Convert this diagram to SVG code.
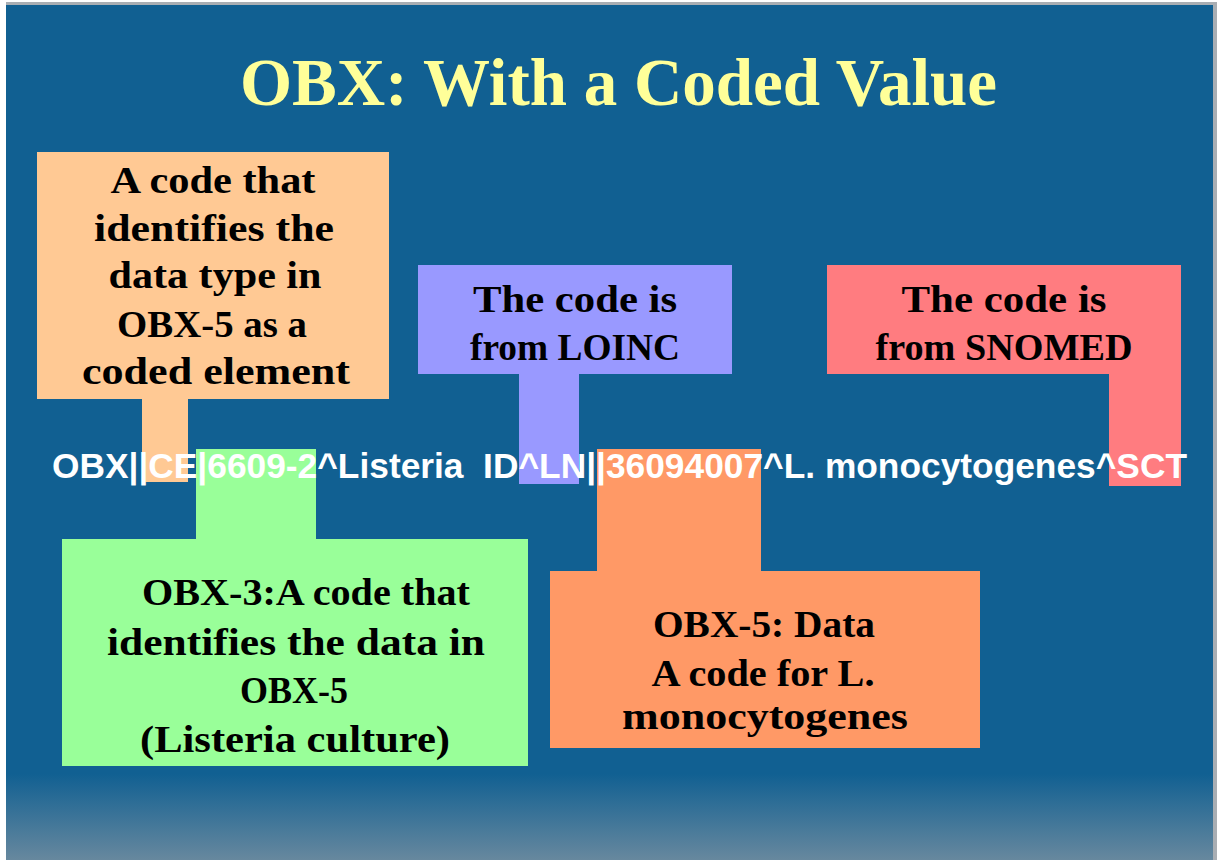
<svg xmlns="http://www.w3.org/2000/svg" width="1217" height="860" viewBox="0 0 1217 860">
  <defs>
    <linearGradient id="bg" x1="0" y1="0" x2="0" y2="860" gradientUnits="userSpaceOnUse">
      <stop offset="0" stop-color="#116092"/>
      <stop offset="0.9" stop-color="#116092"/>
      <stop offset="1" stop-color="#67889E"/>
    </linearGradient>
  </defs>
  <style>
    .note { font-family: "Liberation Serif", "DejaVu Serif", serif; font-weight: bold; font-size: 37px; fill: #000000; text-anchor: middle; }
    .title { font-family: "Liberation Serif", "DejaVu Serif", serif; font-weight: bold; font-size: 67px; fill: #FFFF99; }
    .code { font-family: "Liberation Sans", Arial, sans-serif; font-weight: bold; font-size: 35px; fill: #FFFFFF; }
  </style>
  <rect x="0" y="0" width="1217" height="860" fill="#FFFFFF"/>
  <rect x="6" y="2" width="1211" height="858" fill="#A9AEB3"/>
  <rect x="6" y="5" width="1207" height="855" fill="url(#bg)"/>

  <text class="title" x="240" y="105" textLength="757" lengthAdjust="spacingAndGlyphs">OBX: With a Coded Value</text>

  <g id="connectors"></g>

  <g id="note-datatype">
    <polygon points="37,152 389,152 389,399 188,399 188,482 142,482 142,399 37,399" fill="#FFC994"/>
    <text class="note" x="213" y="193" textLength="205" lengthAdjust="spacingAndGlyphs">A code that</text>
    <text class="note" x="214" y="241" textLength="240" lengthAdjust="spacingAndGlyphs">identifies the</text>
    <text class="note" x="215" y="288" textLength="213" lengthAdjust="spacingAndGlyphs">data type in</text>
    <text class="note" x="212" y="337" textLength="190" lengthAdjust="spacingAndGlyphs">OBX-5 as a</text>
    <text class="note" x="216" y="384" textLength="268" lengthAdjust="spacingAndGlyphs">coded element</text>
  </g>

  <g id="note-loinc">
    <polygon points="418,265 732,265 732,374 579,374 579,484 519,484 519,374 418,374" fill="#9999FF"/>
    <text class="note" x="575" y="312" textLength="204" lengthAdjust="spacingAndGlyphs">The code is</text>
    <text class="note" x="575" y="360" textLength="210" lengthAdjust="spacingAndGlyphs">from LOINC</text>
  </g>

  <g id="note-snomed">
    <polygon points="827,265 1181,265 1181,486 1109,486 1109,374 827,374" fill="#FF7C80"/>
    <text class="note" x="1004" y="312" textLength="205" lengthAdjust="spacingAndGlyphs">The code is</text>
    <text class="note" x="1004" y="360" textLength="257" lengthAdjust="spacingAndGlyphs">from SNOMED</text>
  </g>

  <g id="note-obx3">
    <polygon points="196,449 316,449 316,539 528,539 528,766 62,766 62,539 196,539" fill="#99FF99"/>
    <text class="note" x="306" y="605" textLength="328" lengthAdjust="spacingAndGlyphs">OBX-3:A code that</text>
    <text class="note" x="296" y="655" textLength="378" lengthAdjust="spacingAndGlyphs">identifies the data in</text>
    <text class="note" x="294" y="703" textLength="108" lengthAdjust="spacingAndGlyphs">OBX-5</text>
    <text class="note" x="295" y="752" textLength="310" lengthAdjust="spacingAndGlyphs">(Listeria culture)</text>
  </g>

  <g id="note-obx5">
    <polygon points="597,449 761,449 761,571 980,571 980,748 550,748 550,571 597,571" fill="#FF9966"/>
    <text class="note" x="764" y="637" textLength="222" lengthAdjust="spacingAndGlyphs">OBX-5: Data</text>
    <text class="note" x="763" y="686" textLength="223" lengthAdjust="spacingAndGlyphs">A code for L.</text>
    <text class="note" x="765" y="729" textLength="286" lengthAdjust="spacingAndGlyphs">monocytogenes</text>
  </g>

  <g id="segment">
    <text class="code" x="52" y="478" textLength="1135" lengthAdjust="spacingAndGlyphs" xml:space="preserve">OBX||CE|6609-2^Listeria  ID^LN||36094007^L. monocytogenes^SCT</text>
  </g>
</svg>
